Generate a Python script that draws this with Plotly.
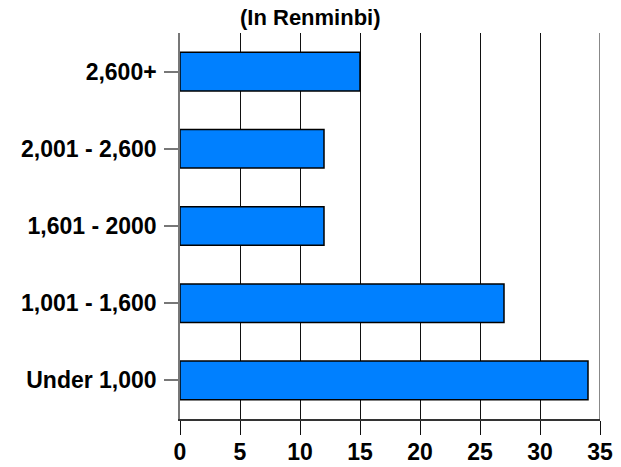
import plotly.graph_objects as go

# Monthly income brackets (RMB) and share of respondents (%)
brackets = ["Under 1,000", "1,001 - 1,600", "1,601 - 2000", "2,001 - 2,600", "2,600+"]
shares = [34, 27, 12, 12, 15]
x_ticks = [0, 5, 10, 15, 20, 25, 30, 35]

font_family = "Liberation Sans, Arial, sans-serif"

fig = go.Figure(
    go.Bar(
        x=shares,
        y=brackets,
        orientation="h",
        width=0.5,
        marker=dict(color="#0080FF", line=dict(color="#000000", width=1.5)),
        hoverinfo="x+y",
    )
)

fig.update_layout(
    width=621,
    height=467,
    margin=dict(l=180, r=21, t=33, b=48),
    paper_bgcolor="white",
    plot_bgcolor="white",
    showlegend=False,
    font=dict(family=font_family, color="#000000"),
    annotations=[
        dict(
            text="<b>(In Renminbi)</b>",
            xref="paper",
            yref="paper",
            x=(310.5 - 180) / 420,
            y=1,
            xanchor="center",
            yanchor="bottom",
            yshift=1,
            showarrow=False,
            font=dict(family=font_family, size=22, color="#000000"),
        )
    ],
    shapes=[
        # right-most grid line at the end of the range
        dict(
            type="line",
            xref="x",
            yref="paper",
            x0=35,
            x1=35,
            y0=0,
            y1=1,
            line=dict(color="#111111", width=1),
        )
    ],
)

fig.update_xaxes(
    range=[0, 35],
    tickvals=x_ticks,
    ticktext=[f"<b>{v}</b>" for v in x_ticks],
    tickfont=dict(size=23),
    showgrid=True,
    gridcolor="#111111",
    gridwidth=1,
    zeroline=False,
    showline=True,
    linecolor="#333333",
    linewidth=1.5,
    ticks="outside",
    ticklen=14,
    tickcolor="#111111",
    tickwidth=1,
    ticklabelstandoff=-2,
    automargin=False,
    fixedrange=True,
)

fig.update_yaxes(
    type="category",
    categoryorder="array",
    categoryarray=brackets,
    tickvals=brackets,
    ticktext=[f"<b>{b}</b>" for b in brackets],
    range=[-0.5, 4.5],
    tickfont=dict(size=23),
    showgrid=False,
    zeroline=False,
    showline=True,
    linecolor="#777777",
    linewidth=1.5,
    ticks="outside",
    ticklen=14,
    tickcolor="#777777",
    tickwidth=1.5,
    ticklabelstandoff=3,
    automargin=False,
    fixedrange=True,
)

fig.write_html("out.html")
